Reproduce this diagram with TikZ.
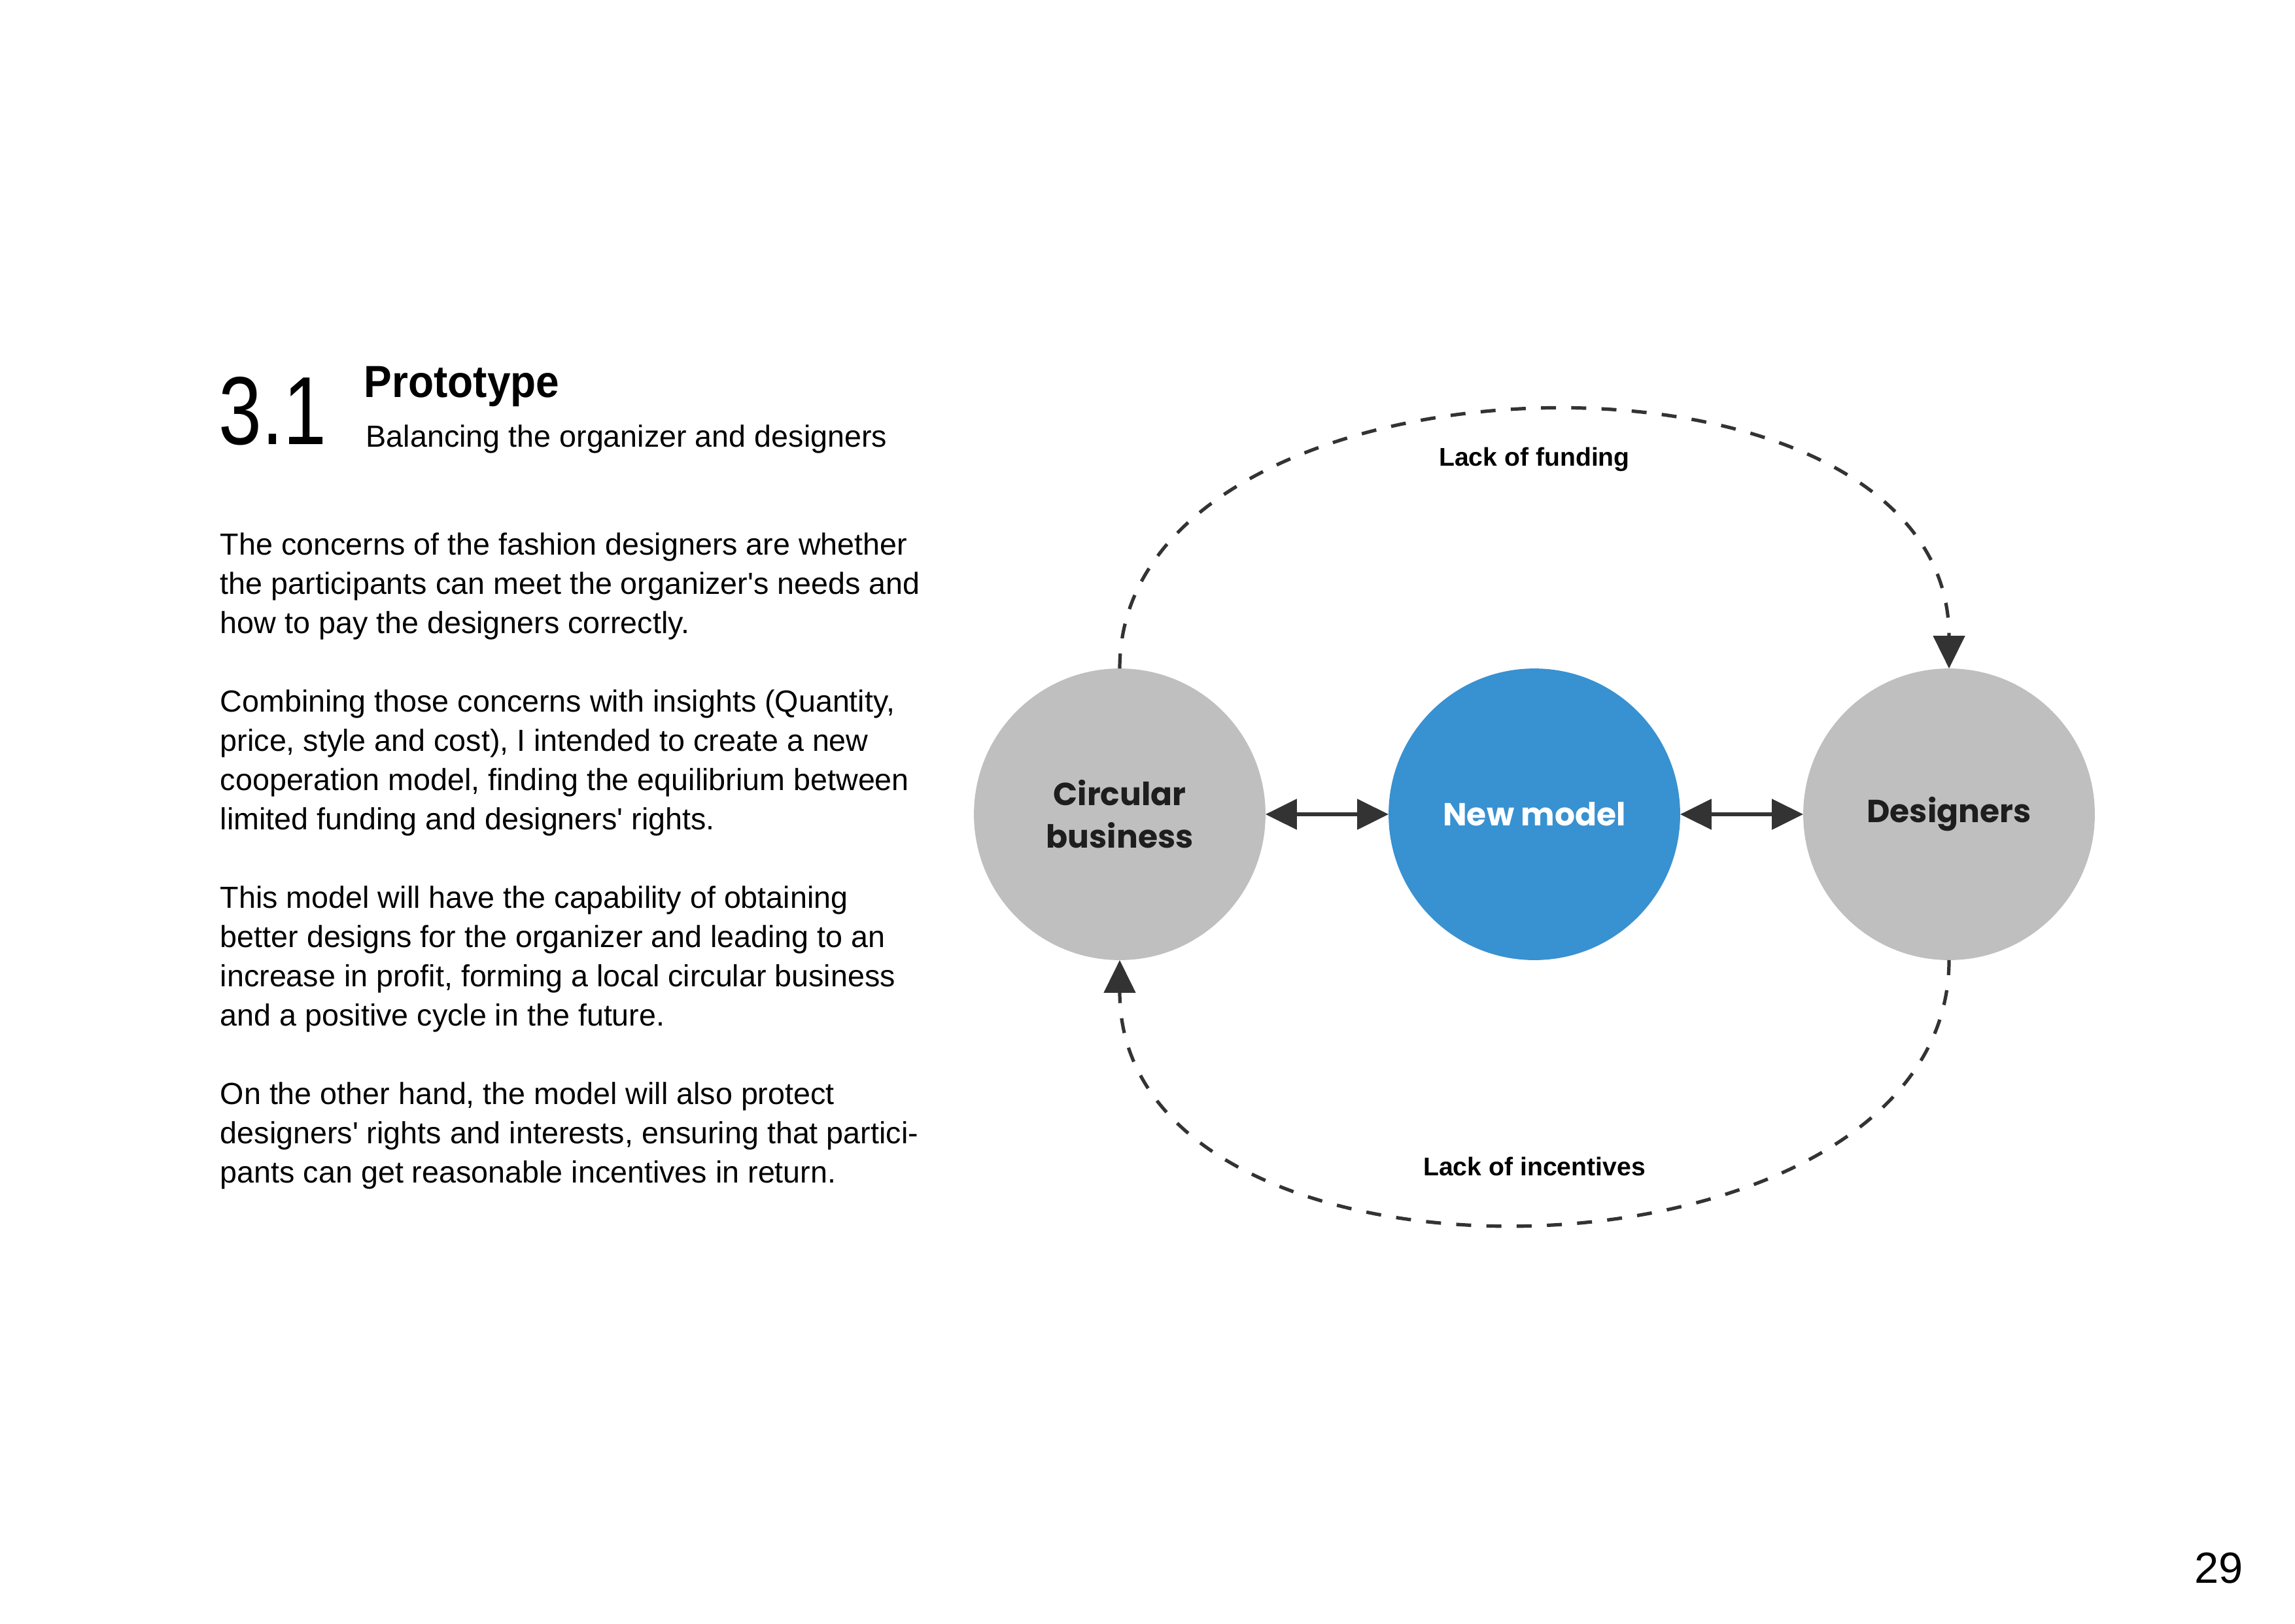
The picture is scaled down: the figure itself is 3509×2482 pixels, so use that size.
\documentclass[tikz,border=0pt]{standalone}
\usepackage{fontspec}
\setmainfont{Liberation Sans}
\newfontfamily\circfont{Poppins}
\newfontfamily\numfont{Liberation Sans}[FakeStretch=0.8]
\newfontfamily\headfont{Liberation Sans}[FakeStretch=0.93]
\usetikzlibrary{arrows.meta}
\definecolor{greyc}{HTML}{BFBFBF}
\definecolor{bluec}{HTML}{3891D1}
\definecolor{darkc}{HTML}{333333}
\definecolor{labc}{HTML}{1E1E1E}
\begin{document}
\begin{tikzpicture}[x=0.24pt,y=-0.24pt,
  bubble/.style={circle,minimum size=107pt,inner sep=0pt,outer sep=0pt,align=center,
    font=\circfont\bfseries\fontsize{11.7pt}{15.6pt}\selectfont},
  bodytext/.style={anchor=base west,inner sep=0pt,align=left,
    font=\fontsize{11.2pt}{14.4pt}\selectfont},
  linklabel/.style={anchor=base,inner sep=0pt,font=\bfseries\fontsize{9.4pt}{11pt}\selectfont},
  twoway/.style={darkc,line width=1.44pt,{Triangle[length=11.5pt,width=11pt]}-{Triangle[length=11.5pt,width=11pt]}},
  loopline/.style={darkc,line width=1.25pt,dash pattern=on 5.5pt off 5.6pt,-{Triangle[length=12pt,width=11.5pt]}}
]
\useasboundingbox[fill=white] (0,0) rectangle (3509,2482);

% header
\node[anchor=base west,inner sep=0pt,font=\numfont\fontsize{35.5pt}{36pt}\selectfont] (num) at (334,679) {3.1};
\node[anchor=base west,inner sep=0pt,font=\headfont\bfseries\fontsize{16.5pt}{18pt}\selectfont] (title) at (556,607) {Prototype};
\node[anchor=base west,inner sep=0pt,font=\fontsize{11.2pt}{14pt}\selectfont] (subtitle) at (559,683) {Balancing the organizer and designers};

% body (base anchor = baseline of the last line)
\node[bodytext] (p1) at (336,968) {The concerns of the fashion designers are whether\\the participants can meet the organizer\textquotesingle s needs and\\how to pay the designers correctly.};
\node[bodytext] (p2) at (336,1268) {Combining those concerns with insights (Quantity,\\price, style and cost), I intended to create a new\\cooperation model, finding the equilibrium between\\limited funding and designers\textquotesingle\ rights.};
\node[bodytext] (p3) at (336,1568) {This model will have the capability of obtaining\\better designs for the organizer and leading to an\\increase in profit, forming a local circular business\\and a positive cycle in the future.};
\node[bodytext] (p4) at (336,1808) {On the other hand, the model will also protect\\designers\textquotesingle\ rights and interests, ensuring that partici-\\pants can get reasonable incentives in return.};

% diagram
\node[bubble,fill=greyc,text=labc] (cb) at (1712,1245) {Circular\\business};
\node[bubble,fill=bluec,text=white] (nm) at (2346,1245) {New model};
\node[bubble,fill=greyc,text=labc] (ds) at (2980,1245) {Designers};

\draw[twoway] (cb) -- (nm);
\draw[twoway] (nm) -- (ds);

\draw[loopline] (cb.north) .. controls (1712,517) and (2980,482) .. (ds.north);
\draw[loopline] (ds.south) .. controls (2980,1985) and (1712,2018) .. (cb.south);

\node[linklabel] (lf) at (2346,712) {Lack of funding};
\node[linklabel] (li) at (2346,1797) {Lack of incentives};

% page number
\node[anchor=base east,inner sep=0pt,font=\fontsize{16pt}{18pt}\selectfont] (page) at (3430,2420) {29};
\end{tikzpicture}
\end{document}
